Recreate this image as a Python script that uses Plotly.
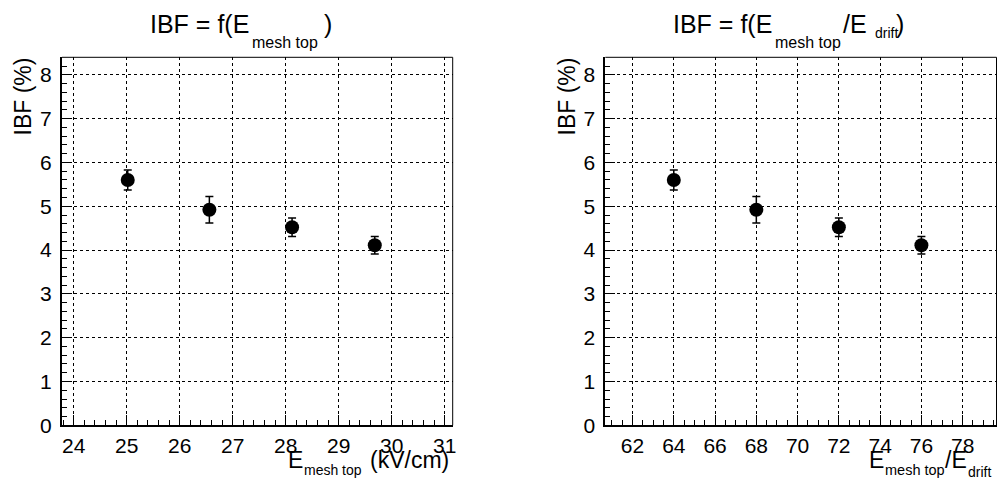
import plotly.graph_objects as go

# ---- data ----
e_mesh_top = [25.02, 26.56, 28.12, 29.68]          # kV/cm
field_ratio = [64, 68, 72, 76]                      # E_mesh top / E_drift
ibf_pct = [5.60, 4.92, 4.52, 4.11]                  # %
ibf_err = [0.23, 0.30, 0.21, 0.20]

x1_range = [23.78, 31.15]
x2_range = [60.68, 79.64]
y_range = [0, 8.4]
x1_ticks = [24, 25, 26, 27, 28, 29, 30, 31]
x2_ticks = [62, 64, 66, 68, 70, 72, 74, 76, 78]
y_ticks = [0, 1, 2, 3, 4, 5, 6, 7, 8]

W, H = 997, 481
FONT = "Liberation Sans, Arial, Helvetica, sans-serif"

fig = go.Figure()

marker = dict(color="black", size=14, symbol="circle")
err = dict(type="data", array=ibf_err, visible=True, color="black", thickness=1.5, width=4)

fig.add_trace(go.Scatter(x=e_mesh_top, y=ibf_pct, mode="markers", marker=marker,
                         error_y=err, xaxis="x", yaxis="y", showlegend=False))
fig.add_trace(go.Scatter(x=field_ratio, y=ibf_pct, mode="markers", marker=marker,
                         error_y=err, xaxis="x2", yaxis="y2", showlegend=False))

ydom = [1 - 425.3 / H, 1 - 57.3 / H]
common = dict(
    ticks="inside", ticklen=10, tickwidth=1, tickcolor="black",
    showline=True, linewidth=2, linecolor="black", mirror=False,
    showgrid=True, gridcolor="black", gridwidth=1, griddash="dot",
    zeroline=False, automargin=False,
    tickfont=dict(family=FONT, size=21, color="black"),
)
xminor = lambda d: dict(dtick=d, ticks="inside", ticklen=5, tickcolor="black", showgrid=False)

fig.update_layout(
    template="none",
    width=W, height=H,
    margin=dict(l=0, r=0, t=0, b=0, pad=0),
    paper_bgcolor="white", plot_bgcolor="white",
    font=dict(family=FONT, color="black"),
    xaxis=dict(domain=[62 / W, 452.7 / W], range=x1_range, tickvals=x1_ticks,
               anchor="y", minor=xminor(0.2), ticklabelstandoff=0, **common),
    yaxis=dict(domain=ydom, range=y_range, tickvals=y_ticks, anchor="x",
               minor=xminor(0.2), ticklabelstandoff=4, **common),
    xaxis2=dict(domain=[605.3 / W, 996.5 / W], range=x2_range, tickvals=x2_ticks,
                anchor="y2", minor=xminor(0.5), ticklabelstandoff=0, **common),
    yaxis2=dict(domain=ydom, range=y_range, tickvals=y_ticks, anchor="x2",
                minor=xminor(0.2), ticklabelstandoff=4, **common),
)

# thin top / right frame lines
for xa, ya in (("x", "y"), ("x2", "y2")):
    fig.add_shape(type="line", xref=f"{xa} domain", yref=f"{ya} domain",
                  x0=0, x1=1, y0=1, y1=1, line=dict(color="black", width=1))
    fig.add_shape(type="line", xref=f"{xa} domain", yref=f"{ya} domain",
                  x0=1, x1=1, y0=0, y1=1, line=dict(color="black", width=1))


def piece(text, x_left, baseline, fs):
    fig.add_annotation(text=text, xref="paper", yref="paper",
                       x=(x_left - 2) / W, y=1 - (baseline - 0.35 * fs) / H,
                       xanchor="left", yanchor="middle", showarrow=False,
                       font=dict(family=FONT, size=fs, color="black"))


# titles
piece("IBF = f(E", 150, 33, 25)
piece("mesh top", 252, 48, 16)
piece(")", 324, 33, 25)

piece("IBF = f(E", 673, 33, 25)
piece("mesh top", 775, 48, 16)
piece("/E", 843, 33, 25)
piece("drift", 875, 38, 14)
piece(")", 896, 33, 25)

# x-axis titles
piece("E", 288, 468, 23)
piece("mesh top", 304, 475, 14)
piece("(kV/cm)", 370, 468, 23)

piece("E", 869, 468, 23)
piece("mesh top", 884.5, 475, 14.5)
piece("/E", 944.5, 468, 23)
piece("drift", 968, 477, 14)

# y-axis titles
for xc in (23, 567):
    fig.add_annotation(text="IBF (%)", xref="paper", yref="paper",
                       x=xc / W, y=1 - 96.5 / H, xanchor="center", yanchor="middle",
                       textangle=-90, showarrow=False,
                       font=dict(family=FONT, size=23, color="black"))

post = (
    "document.documentElement.style.margin='0';document.documentElement.style.overflow='hidden';"
    "document.body.style.margin='0';document.body.style.overflow='hidden';"
)
fig.write_html("out.html", config={"displayModeBar": False}, post_script=post)
